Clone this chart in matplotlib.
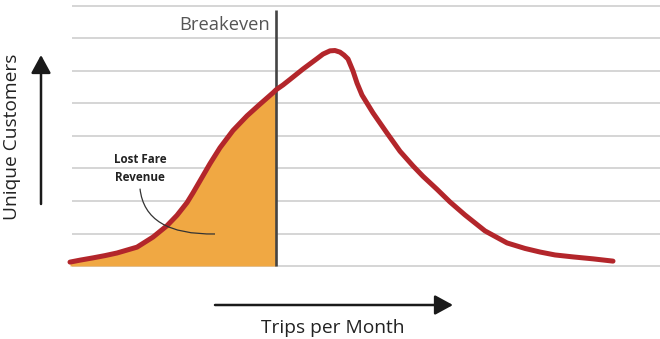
import numpy as np
import matplotlib
matplotlib.use("Agg")
import matplotlib.pyplot as plt
from matplotlib.path import Path
from matplotlib.patches import PathPatch

# values (x: trips per month, y: customers, grid units)
trips = [0, 1.0, 2.3, 3.5, 4.7, 6.7, 8.3, 9.7, 10.7, 11.7, 12.3, 13.0, 14.0, 15.0,
         16.3, 17.7, 19.0, 20.3, 20.6, 21.3, 22.0, 23.3, 24.7, 25.3, 26.0, 26.5,
         27.0, 27.4, 27.8, 28.3, 28.7, 29.2, 30.3, 31.7, 33.0, 34.3, 35.3, 36.7,
         38.0, 39.5, 41.5, 43.7, 45.5, 47.0, 48.5, 50.3, 52.3, 54.3]
customers = [0.12, 0.18, 0.25, 0.32, 0.40, 0.58, 0.89, 1.24, 1.56, 1.95, 2.25, 2.62,
             3.15, 3.64, 4.17, 4.62, 4.98, 5.33, 5.42, 5.57, 5.74, 6.06, 6.38, 6.52,
             6.62, 6.63, 6.58, 6.49, 6.37, 6.00, 5.63, 5.26, 4.71, 4.09, 3.53, 3.08,
             2.76, 2.36, 1.97, 1.57, 1.08, 0.71, 0.54, 0.43, 0.34, 0.28, 0.22, 0.15]
grid_levels = [0, 1, 2, 3, 4, 5, 6, 7, 8]
breakeven = 20.6

plt.rcParams['font.family'] = ['Open Sans', 'DejaVu Sans']

fig = plt.figure(figsize=(6.6, 3.39), dpi=100)
ax = fig.add_axes([0, 0, 1, 1])
ax.set_xlim(-7, 59)
ax.set_ylim(-73 / 32.5, 266 / 32.5)
ax.axis('off')

# grid lines
ax.hlines(grid_levels, 0.2, 59, color='#d2d2d2', lw=1.3, zorder=1)

x = np.array(trips)
y = np.array(customers)
mask = x <= breakeven
ax.fill_between(x[mask], 0, y[mask], color='#f0a843', lw=0, zorder=2)
ax.plot(x, y, color='#b3262b', lw=3.6, solid_capstyle='round',
        solid_joinstyle='round', zorder=4)

# breakeven line
ax.vlines(breakeven, 0, 7.88, color='#444444', lw=1.9, zorder=3)
ax.text(breakeven - 0.6, 7.42, 'Breakeven', ha='right', va='center',
        fontsize=13.2, color='#555555')

# lost fare label and leader
ax.text(7.0, 3.0, 'Lost Fare\nRevenue', ha='center', va='center', fontsize=8.4,
        fontweight='bold', color='#222222', linespacing=1.45)
leader = Path([(7.0, 2.38), (7.5, 0.95), (14.5, 0.985)],
              [Path.MOVETO, Path.CURVE3, Path.CURVE3])
ax.add_patch(PathPatch(leader, fill=False, color='#333333', lw=0.9, zorder=5))

# axis arrows
arrow = dict(arrowstyle='-|>,head_length=0.55,head_width=0.3', lw=1.8,
             color='#1a1a1a', mutation_scale=20, shrinkA=0, shrinkB=0)
ax.annotate('', xy=(41, 339 - 55), xytext=(41, 339 - 204),
            xycoords='figure pixels', textcoords='figure pixels', arrowprops=arrow)
ax.annotate('', xy=(453, 339 - 305), xytext=(215, 339 - 305),
            xycoords='figure pixels', textcoords='figure pixels', arrowprops=arrow)

fig.text(12 / 660, 1 - 137 / 339, 'Unique Customers', rotation=90,
         ha='center', va='center', fontsize=13.8, color='#222222')
fig.text(333 / 660, 1 - 328 / 339, 'Trips per Month', ha='center', va='center',
         fontsize=13.8, color='#222222')

fig.savefig('out.png', dpi=100)
